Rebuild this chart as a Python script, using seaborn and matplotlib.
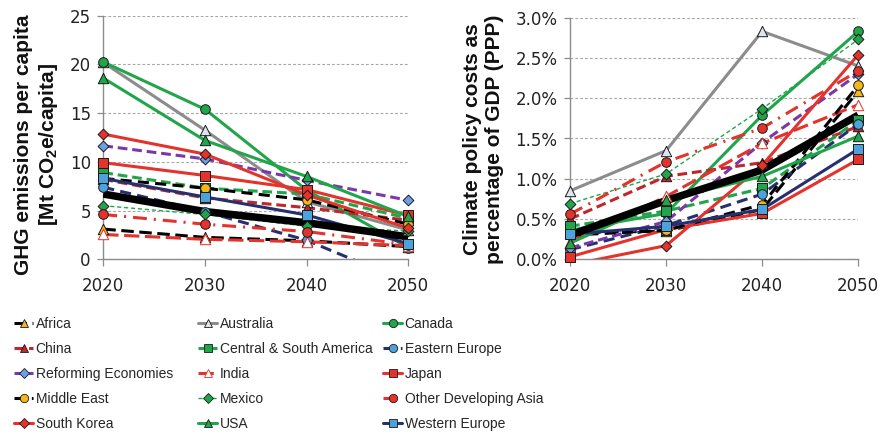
import matplotlib
matplotlib.use("Agg")
import matplotlib.pyplot as plt
import seaborn as sns
from matplotlib import font_manager
from matplotlib.lines import Line2D
from matplotlib.ticker import FuncFormatter, MultipleLocator

# ---------------------------------------------------------------- data
YEARS = [2020, 2030, 2040, 2050]

REGIONS = ["Africa", "Australia", "Canada", "China", "Central & South America",
           "Eastern Europe", "Reforming Economies", "India", "Japan",
           "Middle East", "Mexico", "Other Developing Asia", "South Korea",
           "USA", "Western Europe"]

# GHG emissions per capita [Mt CO2e/capita]
GHG_AFRICA = [3.1, 2.25, 1.9, 1.3]
GHG_AUSTRALIA = [20.2, 13.25, 5.9, 3.0]
GHG_CANADA = [20.25, 15.4, 7.1, 1.2]
GHG_CHINA = [8.2, 6.3, 5.3, 4.0]
GHG_CS_AMERICA = [8.9, 7.3, 6.7, 4.2]
GHG_E_EUROPE = [7.4, 4.9, 1.95, -2.4]
GHG_REFORMING = [11.65, 10.3, 8.1, 6.05]
GHG_INDIA = [2.55, 2.05, 1.8, 1.4]
GHG_JAPAN = [9.92, 8.6, 7.15, 4.5]
GHG_MIDDLE_EAST = [8.3, 7.3, 6.1, 3.6]
GHG_MEXICO = [5.5, 4.6, 3.4, 2.9]
GHG_ODA = [4.6, 3.6, 2.85, 1.5]
GHG_S_KOREA = [12.85, 10.8, 6.6, 3.2]
GHG_USA = [18.6, 12.2, 8.5, 4.4]
GHG_W_EUROPE = [8.3, 6.4, 4.55, 1.6]
GHG_WORLD = [6.7, 4.9, 3.75, 2.3]

# Climate policy costs, % of GDP (PPP)
COST_AFRICA = [0.33, 0.35, 0.62, 2.09]
COST_AUSTRALIA = [0.85, 1.35, 2.83, 2.40]
COST_CANADA = [0.36, 0.57, 1.79, 2.83]
COST_CHINA = [0.50, 1.03, 1.20, 1.65]
COST_CS_AMERICA = [0.41, 0.60, 0.88, 1.73]
COST_E_EUROPE = [0.12, 0.42, 0.81, 1.68]
COST_REFORMING = [0.14, 0.47, 1.45, 2.30]
COST_INDIA = [0.22, 0.78, 1.44, 1.92]
COST_JAPAN = [0.03, 0.37, 0.57, 1.24]
COST_MIDDLE_EAST = [0.30, 0.36, 0.68, 2.16]
COST_MEXICO = [0.69, 1.06, 1.87, 2.73]
COST_ODA = [0.56, 1.21, 1.63, 2.34]
COST_S_KOREA = [-0.07, 0.17, 1.17, 2.54]
COST_USA = [0.20, 0.74, 1.03, 1.53]
COST_W_EUROPE = [0.31, 0.41, 0.62, 1.37]
COST_WORLD = [0.30, 0.73, 1.11, 1.79]

GHG = dict(zip(REGIONS, [GHG_AFRICA, GHG_AUSTRALIA, GHG_CANADA, GHG_CHINA,
                         GHG_CS_AMERICA, GHG_E_EUROPE, GHG_REFORMING, GHG_INDIA,
                         GHG_JAPAN, GHG_MIDDLE_EAST, GHG_MEXICO, GHG_ODA,
                         GHG_S_KOREA, GHG_USA, GHG_W_EUROPE]))
COST = dict(zip(REGIONS, [COST_AFRICA, COST_AUSTRALIA, COST_CANADA, COST_CHINA,
                          COST_CS_AMERICA, COST_E_EUROPE, COST_REFORMING, COST_INDIA,
                          COST_JAPAN, COST_MIDDLE_EAST, COST_MEXICO, COST_ODA,
                          COST_S_KOREA, COST_USA, COST_W_EUROPE]))

# ---------------------------------------------------------------- styles
GREEN = "#21a54a"
RED = "#e3332c"
DARKRED = "#c0262c"
NAVY = "#27306f"
PURPLE = "#7a38a8"
GREY = "#8c8c8c"
SKY = "#4ea2dc"
PERI = "#6c9fe6"
YELLOW = "#f4b71a"
PALE = "#dde5ef"

STYLE = {
    "Africa": dict(color="black", ls=(0, (9, 4)), lw=2.2, m="^", face=YELLOW),
    "Australia": dict(color=GREY, ls="-", lw=2.2, m="^", face=PALE),
    "Canada": dict(color=GREEN, ls="-", lw=2.2, m="o", face=GREEN),
    "China": dict(color=DARKRED, ls=(0, (7, 3.5)), lw=2.2, m="^", face=DARKRED),
    "Central & South America": dict(color=GREEN, ls=(0, (7, 3.5)), lw=2.2, m="s", face=GREEN),
    "Eastern Europe": dict(color=NAVY, ls=(0, (8, 4.5)), lw=2.2, m="o", face=SKY),
    "Reforming Economies": dict(color=PURPLE, ls=(0, (7, 3.5)), lw=2.2, m="D", face=PERI),
    "India": dict(color=RED, ls=(0, (11, 4)), lw=2.2, m="^", face="white", edge=RED),
    "Japan": dict(color=RED, ls="-", lw=2.2, m="s", face=RED),
    "Middle East": dict(color="black", ls=(0, (8, 4.5)), lw=2.2, m="o", face=YELLOW),
    "Mexico": dict(color=GREEN, ls=(0, (3, 2)), lw=1.0, m="D", face=GREEN),
    "Other Developing Asia": dict(color=RED, ls=(0, (10, 5, 1.5, 5)), lw=2.2, m="o", face=RED),
    "South Korea": dict(color=RED, ls="-", lw=2.2, m="D", face=RED),
    "USA": dict(color=GREEN, ls="-", lw=2.2, m="^", face=GREEN),
    "Western Europe": dict(color=NAVY, ls="-", lw=2.2, m="s", face=SKY),
}
MARKER_AREA = {"o": 48, "s": 44, "^": 56, "D": 30}

# ---------------------------------------------------------------- fonts
sns.set_theme(style="white")
plt.rcParams["lines.scale_dashes"] = False
plt.rcParams["mathtext.fontset"] = "custom"
plt.rcParams["mathtext.bf"] = "Liberation Sans:bold"
plt.rcParams["mathtext.rm"] = "Liberation Sans:bold"

available = {f.name for f in font_manager.fontManager.ttflist}
if "Liberation Sans Narrow" in available:
    LEGEND_FONT, LEGEND_SIZE = "Liberation Sans Narrow", 11.5
else:
    LEGEND_FONT, LEGEND_SIZE = "Liberation Sans", 10.0

# ---------------------------------------------------------------- figure
W, H = 881, 434
fig = plt.figure(figsize=(W / 100, H / 100), dpi=100)


def px_axes(x0, x1, ytop, ybot):
    return fig.add_axes([x0 / W, 1 - ybot / H, (x1 - x0) / W, (ybot - ytop) / H])


ax_ghg = px_axes(103.3, 408.3, 15.7, 259.3)
ax_cost = px_axes(570.0, 858.3, 17.7, 259.3)


def draw_panel(ax, table, world, ylim):
    lo, hi = ylim
    for name in REGIONS:
        st = STYLE[name]
        sns.lineplot(x=YEARS, y=table[name], ax=ax, color=st["color"],
                     linewidth=st["lw"], linestyle=st["ls"], zorder=2)
    sns.lineplot(x=YEARS, y=world, ax=ax, color="black", linewidth=5.4,
                 solid_capstyle="butt", zorder=3)
    for name in REGIONS:
        st = STYLE[name]
        pts = [(x, y) for x, y in zip(YEARS, table[name]) if lo <= y <= hi]
        if not pts:
            continue
        xs, ys = zip(*pts)
        sns.scatterplot(x=list(xs), y=list(ys), ax=ax, marker=st["m"],
                        s=MARKER_AREA[st["m"]], color=st["face"],
                        edgecolor=st.get("edge", "#1a1a1a"), linewidth=0.7,
                        clip_on=False, zorder=5, legend=False)

    ax.set_xlim(2020, 2050)
    ax.set_ylim(lo, hi)
    ax.set_xticks(YEARS)
    ax.set_xlabel("")
    ax.set_ylabel("")
    ax.yaxis.grid(True, color="#a6a6a6", linestyle=(0, (2, 1.5)), linewidth=0.8)
    ax.xaxis.grid(False)
    ax.set_axisbelow(True)
    for side in ("top", "right"):
        ax.spines[side].set_visible(False)
    for side in ("left", "bottom"):
        ax.spines[side].set_color("#8c8c8c")
        ax.spines[side].set_linewidth(1.0)
    ax.tick_params(axis="x", bottom=True, direction="out", length=5, width=0.9,
                   color="#8c8c8c", labelsize=12, labelcolor="#222222", pad=8)
    ax.tick_params(axis="y", left=True, direction="out", length=4.5, width=0.9,
                   color="#8c8c8c", labelsize=12, labelcolor="#222222", pad=4.5)


draw_panel(ax_ghg, GHG, GHG_WORLD, (0, 25))
ax_ghg.yaxis.set_major_locator(MultipleLocator(5))

draw_panel(ax_cost, COST, COST_WORLD, (0, 3.0))
ax_cost.yaxis.set_major_locator(MultipleLocator(0.5))
ax_cost.yaxis.set_major_formatter(FuncFormatter(lambda v, _: f"{v:.1f}%"))

# axis titles
label_kw = dict(rotation=90, ha="center", va="center", multialignment="center",
                family="Liberation Sans", weight="bold", fontsize=15,
                color="#111111", linespacing=1.2)
fig.text(37 / W, 1 - 145 / H,
         "GHG emissions per capita\n[Mt CO$_\\mathbf{2}$e/capita]", **label_kw)
fig.text(484 / W, 1 - 139 / H,
         "Climate policy costs as\npercentage of GDP (PPP)", **label_kw)

# ---------------------------------------------------------------- legend
def handle(name):
    st = STYLE[name]
    return Line2D([], [], color=st["color"], linestyle=st["ls"], linewidth=st["lw"],
                  marker=st["m"], markersize=6 if st["m"] != "D" else 5,
                  markerfacecolor=st["face"],
                  markeredgecolor=st.get("edge", "#1a1a1a"), markeredgewidth=0.6)


columns = [REGIONS[0::3], REGIONS[1::3], REGIONS[2::3]]
column_x = [14, 198, 383]
for names, x in zip(columns, column_x):
    fig.legend(handles=[handle(n) for n in names], labels=names,
               loc="upper left", bbox_to_anchor=(x / W, 1 - 316.5 / H),
               frameon=False, borderpad=0, borderaxespad=0,
               handlelength=1.4, handletextpad=0.15, labelspacing=0.8,
               numpoints=1,
               prop=dict(family=LEGEND_FONT, size=LEGEND_SIZE))

fig.savefig("out.png", dpi=100)
